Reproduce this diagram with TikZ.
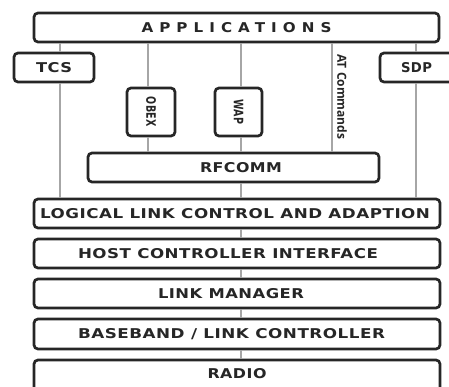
\documentclass[tikz,border=0pt]{standalone}
\usepackage{fontspec}
\setmainfont{DejaVu Sans}
\newfontfamily\lblfont{DejaVu Sans}[LetterSpace=3]
\newfontfamily\appfont{DejaVu Sans}[LetterSpace=40]
\newfontfamily\atfont{Open Sans}
\newlength\fitlen
\newcommand\fitto[2]{\settowidth\fitlen{#2}\pgfmathsetmacro\fitsx{#1/\fitlen}\scalebox{\fitsx}[1]{#2}}
\definecolor{boxc}{HTML}{262626}
\definecolor{linec}{HTML}{A6A6A6}
\tikzset{
  box/.style={draw=boxc, line width=2.7pt, rounded corners=4pt, fill=white, inner sep=0pt, anchor=center, font=\lblfont\bfseries\fontsize{13.5}{15}\selectfont, text=boxc},
  vbox/.style={box, font=\lblfont\bfseries\fontsize{13}{15}\selectfont},
  conn/.style={draw=linec, line width=2.3pt},
}
\begin{document}
\begin{tikzpicture}[x=1pt,y=-1pt]
\useasboundingbox (0,0) rectangle (449,387);
\clip (0,0) rectangle (449,387);
% connectors' x positions
\coordinate (xt) at (60,0);
\coordinate (xo) at (148,0);
\coordinate (xw) at (241,0);
\coordinate (xa) at (332,0);
\coordinate (xs) at (416,0);
% boxes
\node[box, minimum width=405pt, minimum height=29pt] (app) at (236.5,27.5) {\appfont\bfseries\fitto{190}{APPLICATIONS}};
\node[box, minimum width=80pt, minimum height=29pt] (tcs) at (54,67.5) {\fitto{36}{TCS}};
\node[box, minimum width=80pt, minimum height=29pt] (sdp) at (420,67.5) {\hspace{-7pt}\fitto{31}{SDP}};
\node[vbox, minimum width=48pt, minimum height=48pt] (obex) at (151,112) {\rotatebox{-90}{\fitto{30}{OBEX}}};
\node[vbox, minimum width=47pt, minimum height=48pt] (wap) at (238.5,112) {\rotatebox{-90}{\fitto{25}{WAP}}};
\node[box, minimum width=291pt, minimum height=29pt] (rfc) at (233.5,167.5) {\hspace{15pt}\fitto{82}{RFCOMM}};
\node[box, minimum width=406pt, minimum height=29pt] (l2) at (237,213.5) {\hspace{-4pt}\fitto{390}{LOGICAL LINK CONTROL AND ADAPTION}};
\node[box, minimum width=406pt, minimum height=29pt] (hci) at (237,253.5) {\hspace{-18pt}\fitto{300}{HOST CONTROLLER INTERFACE}};
\node[box, minimum width=406pt, minimum height=29pt] (lm) at (237,293.5) {\hspace{-12pt}\fitto{146}{LINK MANAGER}};
\node[box, minimum width=406pt, minimum height=30pt] (bb) at (237,334) {\hspace{-11pt}\fitto{307}{BASEBAND / LINK CONTROLLER}};
\node[box, minimum width=406pt, minimum height=32pt, text depth=0pt] (radio) at (237,376) {\raisebox{6pt}{\fitto{59}{RADIO}}};
\node[anchor=center, inner sep=0pt, rotate=-90, font=\atfont\bfseries\fontsize{12.5}{13}\selectfont, text=boxc] (atc) at (342,97) {\fitto{85}{AT Commands}};
% connectors
\draw[conn] (app.south -| xt) -- (tcs.north -| xt);
\draw[conn] (tcs.south -| xt) -- (l2.north -| xt);
\draw[conn] (app.south -| xo) -- (obex.north -| xo);
\draw[conn] (obex.south -| xo) -- (rfc.north -| xo);
\draw[conn] (app.south -| xw) -- (wap.north -| xw);
\draw[conn] (wap.south -| xw) -- (rfc.north -| xw);
\draw[conn] (rfc.south -| xw) -- (l2.north -| xw);
\draw[conn] (app.south -| xa) -- (rfc.north -| xa);
\draw[conn] (app.south -| xs) -- (sdp.north -| xs);
\draw[conn] (sdp.south -| xs) -- (l2.north -| xs);
\draw[conn] (l2.south -| xw) -- (hci.north -| xw);
\draw[conn] (hci.south -| xw) -- (lm.north -| xw);
\draw[conn] (lm.south -| xw) -- (bb.north -| xw);
\draw[conn] (bb.south -| xw) -- (radio.north -| xw);
\end{tikzpicture}
\end{document}
